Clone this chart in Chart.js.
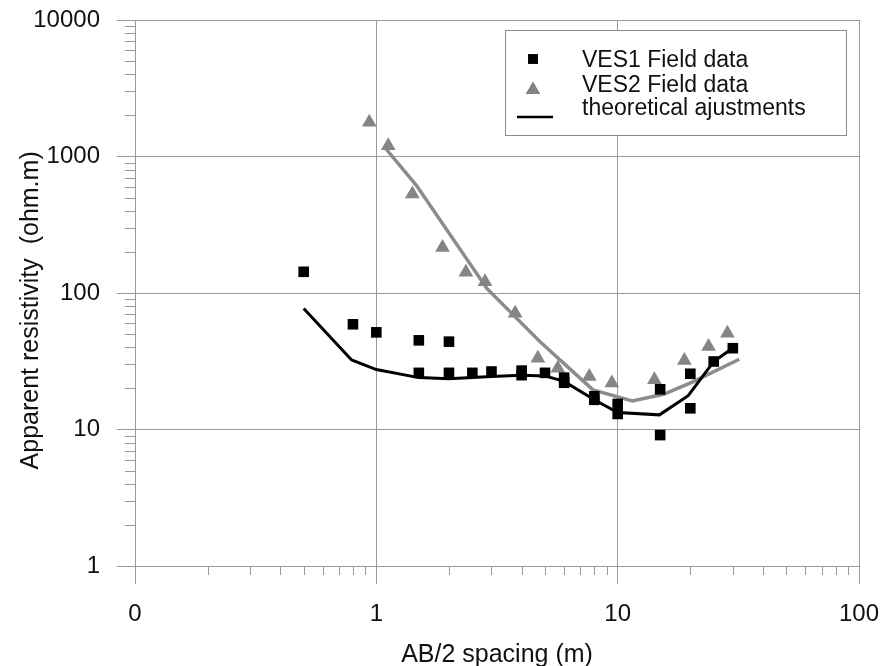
<!DOCTYPE html>
<html>
<head>
<meta charset="utf-8">
<script src="https://cdn.jsdelivr.net/npm/chart.js@4.4.1/dist/chart.umd.min.js"></script>
<style>
  html, body { margin: 0; padding: 0; background: #fff; }
</style>
</head>
<body>
<canvas id="chart" width="893" height="666"></canvas>
<script>
// VES1 field data (black squares)
const ves1X = [0.5, 0.8, 1, 1.5, 2, 1.5, 2, 2.5, 3, 4, 4, 5, 6, 6, 8, 8, 10, 10, 15, 15, 20, 20, 25, 30];
const ves1Y = [143, 59, 51.5, 45, 44, 26, 26, 26, 26.6, 27, 25, 26, 24, 22, 17.5, 16.5, 15.4, 13, 19.7, 9.1, 25.6, 14.3, 31.5, 39.4];

// VES2 field data (grey triangles)
const ves2X = [0.935, 1.12, 1.41, 1.88, 2.35, 2.82, 3.76, 4.67, 5.65, 7.63, 9.46, 14.2, 18.9, 23.8, 28.5];
const ves2Y = [1780, 1200, 532, 215, 142, 121, 71, 33.3, 28.1, 24.4, 21.9, 23.1, 32, 40.5, 50.8];

// theoretical ajustments
const fit1X = [0.5, 0.79, 1, 1.5, 2, 3, 4, 5, 6, 8, 10, 14.9, 19.6, 25, 30];
const fit1Y = [77, 32.3, 27.5, 24, 23.5, 24.4, 25, 24.7, 22.5, 16.5, 13.3, 12.8, 17.7, 31.5, 39.5];
const fit2X = [1.1, 1.47, 2.87, 4.77, 7.9, 11.5, 15.5, 20.6, 31.9];
const fit2Y = [1130, 610, 108, 44, 19.5, 16.2, 18.1, 22.4, 32.7];

// axes
const xMajor = [0.1, 1, 10, 100];
const xLabels = ['0', '1', '10', '100'];
const xMinor = [0.2, 0.3, 0.4, 0.5, 0.6, 0.7, 0.8, 0.9, 2, 3, 4, 5, 6, 7, 8, 9, 20, 30, 40, 50, 60, 70, 80, 90];
const yMajor = [1, 10, 100, 1000, 10000];
const yLabels = ['1', '10', '100', '1000', '10000'];
const yMinor = [2, 3, 4, 5, 6, 7, 8, 9, 20, 30, 40, 50, 60, 70, 80, 90, 200, 300, 400, 500, 600, 700, 800, 900, 2000, 3000, 4000, 5000, 6000, 7000, 8000, 9000];

const legendLabels = ['VES1 Field data', 'VES2 Field data', 'theoretical ajustments'];

const FONT = "'Liberation Sans', Arial, sans-serif";
const GRID = '#9a9a9a';

const pts = (xs, ys) => xs.map((x, i) => ({ x: x, y: ys[i] }));

const minorTicks = {
  id: 'minorTicks',
  afterDraw(chart) {
    const { x, y } = chart.scales;
    const ctx = chart.ctx;
    ctx.save();
    ctx.strokeStyle = GRID;
    ctx.lineWidth = 1;
    ctx.beginPath();
    xMinor.forEach(v => {
      const px = Math.round(x.getPixelForValue(v)) + 0.5;
      ctx.moveTo(px, y.bottom);
      ctx.lineTo(px, y.bottom + 9);
    });
    yMinor.forEach(v => {
      const py = Math.round(y.getPixelForValue(v)) + 0.5;
      ctx.moveTo(x.left - 10, py);
      ctx.lineTo(x.left, py);
    });
    ctx.stroke();
    ctx.restore();
  }
};

const boxLegend = {
  id: 'boxLegend',
  afterDatasetsDraw(chart) {
    const ctx = chart.ctx;
    const ds = chart.data.datasets;
    ctx.save();
    ctx.fillStyle = '#fff';
    ctx.fillRect(505.5, 30.5, 341, 105);
    ctx.strokeStyle = '#8a8a8a';
    ctx.lineWidth = 1;
    ctx.strokeRect(505.5, 30.5, 341, 105);

    Chart.helpers.drawPoint(ctx, {
      pointStyle: 'rect', radius: 7, borderWidth: 0
    }, 533, 59);
    ctx.fillStyle = ds[0].backgroundColor;
    ctx.fill();

    ctx.beginPath();
    Chart.helpers.drawPoint(ctx, {
      pointStyle: 'triangle', radius: 8, borderWidth: 0
    }, 533, 90);
    ctx.fillStyle = ds[1].backgroundColor;
    ctx.fill();

    ctx.beginPath();
    ctx.strokeStyle = ds[2].borderColor;
    ctx.lineWidth = 2.5;
    ctx.moveTo(517, 117);
    ctx.lineTo(553, 117);
    ctx.stroke();

    ctx.fillStyle = '#111';
    ctx.font = '23px ' + FONT;
    ctx.textBaseline = 'middle';
    ctx.textAlign = 'left';
    ctx.fillText(legendLabels[0], 582, 61);
    ctx.fillText(legendLabels[1], 582, 86);
    ctx.fillText(legendLabels[2], 582, 109);
    ctx.restore();
  }
};

new Chart(document.getElementById('chart'), {
  type: 'scatter',
  data: {
    datasets: [
      {
        label: legendLabels[0],
        data: pts(ves1X, ves1Y),
        pointStyle: 'rect',
        pointRadius: 7.5,
        backgroundColor: '#000',
        borderWidth: 0,
        order: 1
      },
      {
        label: legendLabels[1],
        data: pts(ves2X, ves2Y),
        pointStyle: 'triangle',
        pointRadius: 8.5,
        backgroundColor: '#858585',
        borderWidth: 0,
        order: 1
      },
      {
        label: legendLabels[2],
        data: pts(fit1X, fit1Y),
        showLine: true,
        pointRadius: 0,
        borderColor: '#000',
        borderWidth: 3,
        tension: 0,
        order: 2
      },
      {
        label: legendLabels[2],
        data: pts(fit2X, fit2Y),
        showLine: true,
        pointRadius: 0,
        borderColor: '#8c8c8c',
        borderWidth: 3.5,
        tension: 0,
        order: 2
      }
    ]
  },
  options: {
    responsive: false,
    animation: false,
    layout: { padding: { top: 20, right: 34, left: 0, bottom: 0 } },
    plugins: {
      legend: { display: false },
      tooltip: { enabled: false }
    },
    scales: {
      x: {
        type: 'logarithmic',
        min: 0.1,
        max: 100,
        afterBuildTicks: s => { s.ticks = xMajor.map(v => ({ value: v })); },
        afterFit: s => { s.height = 100; s.paddingLeft = 0; s.paddingRight = 0; },
        ticks: {
          autoSkip: false,
          maxRotation: 0,
          padding: 16,
          color: '#111',
          font: { family: FONT, size: 24 },
          callback: (v, i) => xLabels[i]
        },
        grid: { color: GRID, tickColor: GRID, tickLength: 18 },
        border: { color: GRID },
        title: {
          display: true,
          text: 'AB/2 spacing (m)',
          color: '#111',
          font: { family: FONT, size: 25, lineHeight: 0.9 },
          padding: 0
        }
      },
      y: {
        type: 'logarithmic',
        min: 1,
        max: 10000,
        afterBuildTicks: s => { s.ticks = yMajor.map(v => ({ value: v })); },
        afterFit: s => { s.width = 135; s.paddingTop = 0; s.paddingBottom = 0; },
        ticks: {
          autoSkip: false,
          padding: 17,
          color: '#111',
          font: { family: FONT, size: 24 },
          callback: (v, i) => yLabels[i]
        },
        grid: { color: GRID, tickColor: GRID, tickLength: 18 },
        border: { color: GRID },
        title: {
          display: true,
          text: 'Apparent resistivity  (ohm.m)     ',
          color: '#111',
          font: { family: FONT, size: 25, lineHeight: 1.2 },
          padding: { top: 16, bottom: 0 }
        }
      }
    }
  },
  plugins: [minorTicks, boxLegend]
});
</script>
</body>
</html>
